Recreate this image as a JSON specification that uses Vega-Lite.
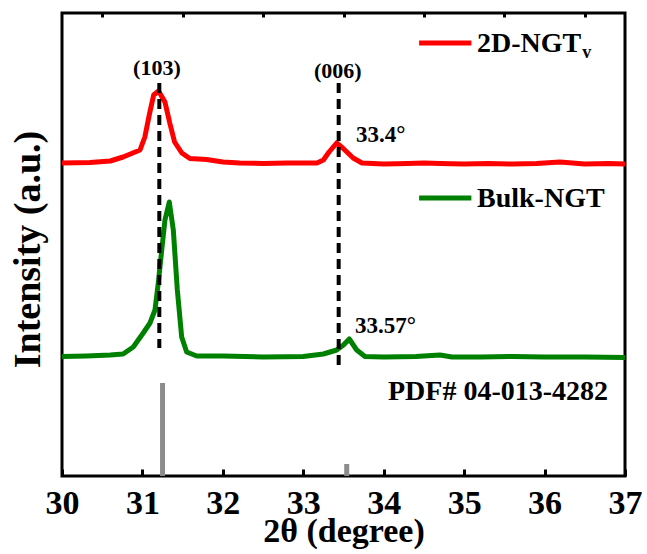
{
  "$schema": "https://vega.github.io/schema/vega-lite/v6.json",
  "width": 563,
  "height": 463,
  "autosize": {"type": "none"},
  "padding": {"left": 62, "top": 13, "right": 22, "bottom": 78},
  "background": "white",
  "config": {
    "view": {"stroke": "#000000", "strokeWidth": 3},
    "font": "Liberation Serif",
    "text": {"font": "Liberation Serif", "fontWeight": "bold", "color": "#000000"}
  },
  "datasets": {
    "xrd": [
      {"series": "2D-NGTv", "theta": 30.0, "intensity": 313},
      {"series": "2D-NGTv", "theta": 30.35, "intensity": 313.5},
      {"series": "2D-NGTv", "theta": 30.6, "intensity": 315},
      {"series": "2D-NGTv", "theta": 30.76, "intensity": 319},
      {"series": "2D-NGTv", "theta": 30.97, "intensity": 326},
      {"series": "2D-NGTv", "theta": 31.03, "intensity": 339},
      {"series": "2D-NGTv", "theta": 31.09, "intensity": 363},
      {"series": "2D-NGTv", "theta": 31.14, "intensity": 381},
      {"series": "2D-NGTv", "theta": 31.2, "intensity": 385},
      {"series": "2D-NGTv", "theta": 31.28, "intensity": 374},
      {"series": "2D-NGTv", "theta": 31.34, "intensity": 353},
      {"series": "2D-NGTv", "theta": 31.4, "intensity": 334},
      {"series": "2D-NGTv", "theta": 31.49, "intensity": 323},
      {"series": "2D-NGTv", "theta": 31.59, "intensity": 317.5},
      {"series": "2D-NGTv", "theta": 31.8, "intensity": 316.5},
      {"series": "2D-NGTv", "theta": 32.0, "intensity": 314},
      {"series": "2D-NGTv", "theta": 32.21, "intensity": 313},
      {"series": "2D-NGTv", "theta": 32.5, "intensity": 312.5},
      {"series": "2D-NGTv", "theta": 32.8, "intensity": 313},
      {"series": "2D-NGTv", "theta": 33.0, "intensity": 313},
      {"series": "2D-NGTv", "theta": 33.17, "intensity": 313},
      {"series": "2D-NGTv", "theta": 33.25, "intensity": 316},
      {"series": "2D-NGTv", "theta": 33.32, "intensity": 324},
      {"series": "2D-NGTv", "theta": 33.415, "intensity": 333},
      {"series": "2D-NGTv", "theta": 33.49, "intensity": 328},
      {"series": "2D-NGTv", "theta": 33.62, "intensity": 318},
      {"series": "2D-NGTv", "theta": 33.73, "intensity": 313},
      {"series": "2D-NGTv", "theta": 34.0, "intensity": 312},
      {"series": "2D-NGTv", "theta": 34.3, "intensity": 312.5},
      {"series": "2D-NGTv", "theta": 34.5, "intensity": 313},
      {"series": "2D-NGTv", "theta": 34.7, "intensity": 312.5},
      {"series": "2D-NGTv", "theta": 35.0, "intensity": 312},
      {"series": "2D-NGTv", "theta": 35.3, "intensity": 312.5},
      {"series": "2D-NGTv", "theta": 35.6, "intensity": 312},
      {"series": "2D-NGTv", "theta": 35.9, "intensity": 312.5},
      {"series": "2D-NGTv", "theta": 36.19, "intensity": 314},
      {"series": "2D-NGTv", "theta": 36.5, "intensity": 312},
      {"series": "2D-NGTv", "theta": 36.8, "intensity": 312.5},
      {"series": "2D-NGTv", "theta": 37.0, "intensity": 312},
      {"series": "Bulk-NGT", "theta": 30.0, "intensity": 119.5},
      {"series": "Bulk-NGT", "theta": 30.3, "intensity": 120},
      {"series": "Bulk-NGT", "theta": 30.6, "intensity": 121},
      {"series": "Bulk-NGT", "theta": 30.76, "intensity": 122},
      {"series": "Bulk-NGT", "theta": 30.886, "intensity": 129},
      {"series": "Bulk-NGT", "theta": 31.01, "intensity": 143},
      {"series": "Bulk-NGT", "theta": 31.094, "intensity": 153},
      {"series": "Bulk-NGT", "theta": 31.156, "intensity": 166},
      {"series": "Bulk-NGT", "theta": 31.197, "intensity": 193},
      {"series": "Bulk-NGT", "theta": 31.24, "intensity": 226},
      {"series": "Bulk-NGT", "theta": 31.28, "intensity": 256},
      {"series": "Bulk-NGT", "theta": 31.334, "intensity": 274},
      {"series": "Bulk-NGT", "theta": 31.384, "intensity": 246},
      {"series": "Bulk-NGT", "theta": 31.434, "intensity": 186},
      {"series": "Bulk-NGT", "theta": 31.488, "intensity": 139},
      {"series": "Bulk-NGT", "theta": 31.55, "intensity": 124},
      {"series": "Bulk-NGT", "theta": 31.675, "intensity": 120},
      {"series": "Bulk-NGT", "theta": 32.0, "intensity": 120},
      {"series": "Bulk-NGT", "theta": 32.5, "intensity": 119},
      {"series": "Bulk-NGT", "theta": 33.0, "intensity": 119.5},
      {"series": "Bulk-NGT", "theta": 33.25, "intensity": 122},
      {"series": "Bulk-NGT", "theta": 33.415, "intensity": 126},
      {"series": "Bulk-NGT", "theta": 33.5, "intensity": 131},
      {"series": "Bulk-NGT", "theta": 33.572, "intensity": 137},
      {"series": "Bulk-NGT", "theta": 33.664, "intensity": 126},
      {"series": "Bulk-NGT", "theta": 33.767, "intensity": 119.5},
      {"series": "Bulk-NGT", "theta": 34.0, "intensity": 119},
      {"series": "Bulk-NGT", "theta": 34.4, "intensity": 119.5},
      {"series": "Bulk-NGT", "theta": 34.7, "intensity": 121},
      {"series": "Bulk-NGT", "theta": 34.85, "intensity": 119},
      {"series": "Bulk-NGT", "theta": 35.2, "intensity": 119},
      {"series": "Bulk-NGT", "theta": 35.6, "intensity": 119.5},
      {"series": "Bulk-NGT", "theta": 36.0, "intensity": 119},
      {"series": "Bulk-NGT", "theta": 36.5, "intensity": 119},
      {"series": "Bulk-NGT", "theta": 37.0, "intensity": 118.5}
    ],
    "pdf": [
      {"theta": 31.25, "intensity": 93},
      {"theta": 33.54, "intensity": 12}
    ],
    "guides": [
      {"theta": 31.21, "top": 393, "bottom": 128},
      {"theta": 33.44, "top": 393, "bottom": 108}
    ],
    "keys": [
      {"series": "2D-NGTv", "theta": 34.44, "theta2": 35.09, "intensity": 433},
      {"series": "Bulk-NGT", "theta": 34.44, "theta2": 35.09, "intensity": 278}
    ],
    "labels": [
      {"group": "hkl", "text": "(103)", "theta": 31.18, "intensity": 401},
      {"group": "hkl", "text": "(006)", "theta": 33.43, "intensity": 398},
      {"group": "angle", "text": "33.4°", "theta": 33.655, "intensity": 334},
      {"group": "angle", "text": "33.57°", "theta": 33.643, "intensity": 143},
      {"group": "big", "text": "PDF# 04-013-4282", "theta": 34.053, "intensity": 76},
      {"group": "big", "text": "2D-NGT", "theta": 35.16, "intensity": 424},
      {"group": "big", "text": "Bulk-NGT", "theta": 35.16, "intensity": 269},
      {"group": "sub", "text": "v", "theta": 36.47, "intensity": 418}
    ]
  },
  "layer": [
    {
      "data": {"name": "pdf"},
      "mark": {"type": "rule", "color": "#8c8c8c", "strokeWidth": 5},
      "encoding": {
        "x": {
          "field": "theta", "type": "quantitative",
          "scale": {"domain": [30, 37], "nice": false, "zero": false},
          "axis": {
            "values": [30, 31, 32, 33, 34, 35, 36, 37],
            "format": "d",
            "domain": false, "grid": false,
            "tickSize": -7, "tickWidth": 3, "tickColor": "#000000",
            "labelFont": "Liberation Serif", "labelFontWeight": "bold", "labelFontSize": 34,
            "labelColor": "#000000", "labelBaseline": "alphabetic", "labelPadding": 44,
            "labelFlush": false, "labelOverlap": false,
            "title": "2θ (degree)",
            "titleFont": "Liberation Serif", "titleFontWeight": "bold", "titleFontSize": 34,
            "titleColor": "#000000", "titleBaseline": "alphabetic", "titleY": 65
          }
        },
        "y": {
          "field": "intensity", "type": "quantitative",
          "scale": {"domain": [0, 463], "nice": false, "zero": true},
          "axis": {
            "labels": false, "ticks": false, "domain": false, "grid": false,
            "title": "Intensity (a.u.)",
            "titleFont": "Liberation Serif", "titleFontWeight": "bold", "titleFontSize": 38,
            "titleColor": "#000000", "titleBaseline": "alphabetic", "titleAngle": -90,
            "titleAlign": "center", "titleX": -23, "titleY": 236
          }
        },
        "y2": {"datum": 0}
      }
    },
    {
      "data": {"name": "xrd"},
      "mark": {"type": "line", "strokeWidth": 5, "strokeJoin": "round"},
      "encoding": {
        "x": {"field": "theta", "type": "quantitative", "axis": null},
        "y": {"field": "intensity", "type": "quantitative", "axis": null},
        "color": {
          "field": "series", "type": "nominal",
          "scale": {"domain": ["2D-NGTv", "Bulk-NGT"], "range": ["#ff0000", "#008000"]},
          "legend": null
        }
      }
    },
    {
      "data": {"name": "guides"},
      "mark": {"type": "rule", "color": "#000000", "strokeWidth": 4, "strokeDash": [10, 6]},
      "encoding": {
        "x": {
          "field": "theta", "type": "quantitative",
          "axis": {
            "values": [30.5, 31.5, 32.5, 33.5, 34.5, 35.5, 36.5],
            "labels": false, "domain": false, "grid": false, "title": null,
            "tickSize": -4, "tickWidth": 3, "tickColor": "#000000"
          }
        },
        "y": {"field": "top", "type": "quantitative", "axis": null},
        "y2": {"field": "bottom"}
      }
    },
    {
      "data": {"name": "keys"},
      "mark": {"type": "rule", "strokeWidth": 5},
      "encoding": {
        "x": {"field": "theta", "type": "quantitative", "axis": null},
        "x2": {"field": "theta2"},
        "y": {"field": "intensity", "type": "quantitative", "axis": null},
        "color": {"field": "series", "type": "nominal", "legend": null}
      }
    },
    {
      "data": {"name": "labels"},
      "transform": [{"filter": "datum.group === 'hkl'"}],
      "mark": {"type": "text", "fontSize": 22, "align": "center", "baseline": "alphabetic"},
      "encoding": {
        "x": {"field": "theta", "type": "quantitative", "axis": null},
        "y": {"field": "intensity", "type": "quantitative", "axis": null},
        "text": {"field": "text"}
      }
    },
    {
      "data": {"name": "labels"},
      "transform": [{"filter": "datum.group === 'angle'"}],
      "mark": {"type": "text", "fontSize": 23, "align": "left", "baseline": "alphabetic"},
      "encoding": {
        "x": {"field": "theta", "type": "quantitative", "axis": null},
        "y": {"field": "intensity", "type": "quantitative", "axis": null},
        "text": {"field": "text"}
      }
    },
    {
      "data": {"name": "labels"},
      "transform": [{"filter": "datum.group === 'big'"}],
      "mark": {"type": "text", "fontSize": 28, "align": "left", "baseline": "alphabetic"},
      "encoding": {
        "x": {"field": "theta", "type": "quantitative", "axis": null},
        "y": {"field": "intensity", "type": "quantitative", "axis": null},
        "text": {"field": "text"}
      }
    },
    {
      "data": {"name": "labels"},
      "transform": [{"filter": "datum.group === 'sub'"}],
      "mark": {"type": "text", "fontSize": 18, "align": "left", "baseline": "alphabetic"},
      "encoding": {
        "x": {"field": "theta", "type": "quantitative", "axis": null},
        "y": {"field": "intensity", "type": "quantitative", "axis": null},
        "text": {"field": "text"}
      }
    }
  ],
  "resolve": {"axis": {"x": "independent", "y": "independent"}}
}
